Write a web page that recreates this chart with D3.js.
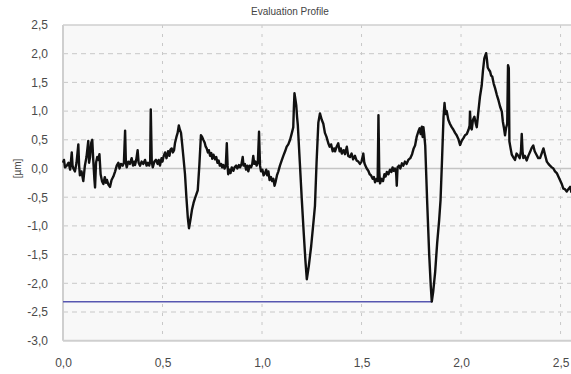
<!DOCTYPE html>
<html>
<head>
<meta charset="utf-8">
<script src="https://cdn.jsdelivr.net/npm/d3@7"></script>
<style>
  html, body { margin: 0; padding: 0; background: #fff; }
  svg { display: block; font-family: "Liberation Sans", Arial, sans-serif; }
</style>
</head>
<body>
<svg id="chart"></svg>
<script>
// ticks
const xTicks = [0, 0.5, 1.0, 1.5, 2.0, 2.5];
const yTicks = [2.5, 2.0, 1.5, 1.0, 0.5, 0.0, -0.5, -1.0, -1.5, -2.0, -2.5, -3.0];

// profile: position and height in µm
const profileX = [
  0.000, 0.005, 0.010, 0.019, 0.028, 0.036, 0.044, 0.048, 0.052, 0.060, 0.068, 0.077, 0.081, 0.085, 0.093, 0.102,
  0.110, 0.118, 0.127, 0.131, 0.136, 0.142, 0.147, 0.152, 0.158, 0.161, 0.166, 0.172, 0.178, 0.183, 0.189, 0.196,
  0.203, 0.210, 0.216, 0.221, 0.228, 0.236, 0.244, 0.253, 0.262, 0.270, 0.278, 0.284, 0.291, 0.300, 0.306, 0.312,
  0.316, 0.320, 0.328, 0.336, 0.345, 0.352, 0.358, 0.362, 0.368, 0.375, 0.380, 0.387, 0.395, 0.403, 0.412, 0.420,
  0.427, 0.433, 0.438, 0.441, 0.446, 0.451, 0.459, 0.467, 0.475, 0.481, 0.487, 0.495, 0.500, 0.506, 0.513, 0.520,
  0.528, 0.535, 0.540, 0.546, 0.552, 0.558, 0.563, 0.570, 0.576, 0.582, 0.587, 0.593, 0.598, 0.605, 0.613, 0.620,
  0.627, 0.633, 0.640, 0.648, 0.656, 0.663, 0.670, 0.677, 0.685, 0.693, 0.699, 0.705, 0.712, 0.717, 0.722, 0.728,
  0.733, 0.739, 0.745, 0.750, 0.756, 0.764, 0.770, 0.776, 0.782, 0.788, 0.795, 0.800, 0.806, 0.812, 0.818, 0.823,
  0.827, 0.830, 0.836, 0.842, 0.848, 0.856, 0.862, 0.870, 0.876, 0.884, 0.890, 0.897, 0.903, 0.907, 0.914, 0.920,
  0.926, 0.931, 0.938, 0.945, 0.951, 0.956, 0.961, 0.967, 0.973, 0.979, 0.985, 0.990, 0.995, 1.002, 1.008, 1.015,
  1.021, 1.026, 1.032, 1.038, 1.045, 1.051, 1.057, 1.063, 1.069, 1.075, 1.082, 1.090, 1.099, 1.107, 1.116, 1.124,
  1.132, 1.141, 1.150, 1.157, 1.160, 1.163, 1.168, 1.172, 1.176, 1.180, 1.190, 1.200, 1.210, 1.218, 1.225, 1.235,
  1.247, 1.258, 1.266, 1.274, 1.283, 1.291, 1.300, 1.308, 1.316, 1.324, 1.333, 1.340, 1.347, 1.355, 1.362, 1.367,
  1.375, 1.383, 1.390, 1.396, 1.401, 1.410, 1.417, 1.426, 1.433, 1.442, 1.450, 1.458, 1.467, 1.475, 1.484, 1.492,
  1.500, 1.509, 1.514, 1.518, 1.526, 1.534, 1.541, 1.548, 1.556, 1.562, 1.568, 1.576, 1.581, 1.585, 1.589, 1.593,
  1.600, 1.608, 1.615, 1.621, 1.627, 1.635, 1.643, 1.650, 1.656, 1.662, 1.668, 1.674, 1.677, 1.681, 1.688, 1.695,
  1.703, 1.710, 1.718, 1.726, 1.735, 1.745, 1.754, 1.762, 1.769, 1.777, 1.785, 1.792, 1.797, 1.803, 1.807, 1.811,
  1.815, 1.820, 1.830, 1.840, 1.848, 1.853, 1.860, 1.870, 1.880, 1.890, 1.897, 1.905, 1.912, 1.917, 1.922, 1.928,
  1.936, 1.944, 1.953, 1.961, 1.970, 1.978, 1.986, 1.995, 2.003, 2.012, 2.020, 2.029, 2.038, 2.043, 2.045, 2.049,
  2.054, 2.060, 2.067, 2.073, 2.079, 2.083, 2.087, 2.095, 2.104, 2.110, 2.117, 2.122, 2.126, 2.130, 2.134, 2.140,
  2.146, 2.151, 2.157, 2.164, 2.171, 2.180, 2.188, 2.196, 2.205, 2.210, 2.215, 2.221, 2.226, 2.232, 2.236, 2.240,
  2.243, 2.249, 2.255, 2.262, 2.271, 2.279, 2.288, 2.295, 2.301, 2.305, 2.309, 2.313, 2.321, 2.330, 2.338, 2.347,
  2.355, 2.363, 2.370, 2.379, 2.388, 2.397, 2.405, 2.414, 2.422, 2.431, 2.439, 2.447, 2.456, 2.464, 2.472, 2.481,
  2.489, 2.497, 2.505, 2.514, 2.522, 2.531, 2.539, 2.548, 2.555
];
const profileY = [
  0.10, 0.15, 0.02, 0.05, 0.10, -0.02, 0.28, 0.05, 0.00, -0.05, 0.10, 0.42, 0.05, -0.12, -0.05, -0.22,
  0.05, 0.20, 0.48, 0.10, 0.20, 0.45, 0.50, 0.15, -0.20, -0.33, 0.10, 0.20, 0.15, 0.25, -0.10, -0.22,
  -0.27, -0.15, -0.25, -0.20, -0.28, -0.32, -0.20, -0.14, -0.05, 0.05, 0.10, 0.00, 0.08, 0.05, 0.10, 0.66,
  0.10, 0.02, 0.12, 0.08, 0.18, 0.05, 0.12, 0.06, 0.15, 0.32, 0.10, 0.05, 0.12, 0.08, 0.15, 0.05,
  0.10, 0.05, 0.12, 1.03, 0.12, 0.02, 0.12, 0.15, 0.08, 0.15, 0.05, 0.18, 0.12, 0.22, 0.28, 0.18,
  0.30, 0.22, 0.33, 0.35, 0.28, 0.32, 0.45, 0.55, 0.62, 0.75, 0.68, 0.62, 0.45, 0.20, -0.10, -0.50,
  -0.85, -1.04, -0.90, -0.72, -0.60, -0.52, -0.45, -0.38, 0.05, 0.58, 0.55, 0.50, 0.45, 0.38, 0.35, 0.28,
  0.32, 0.22, 0.27, 0.17, 0.24, 0.16, 0.20, 0.10, 0.14, 0.05, 0.08, 0.02, 0.06, 0.00, 0.05, 0.44,
  0.05, -0.10, -0.02, -0.08, 0.02, -0.04, 0.02, 0.05, 0.00, 0.06, 0.02, 0.08, 0.20, 0.05, 0.08, -0.02,
  0.05, -0.05, 0.05, 0.02, 0.08, 0.22, 0.08, 0.12, 0.05, 0.10, 0.64, 0.05, -0.05, -0.02, -0.12, -0.08,
  -0.02, -0.12, -0.05, -0.20, -0.15, -0.22, -0.18, -0.30, -0.22, -0.12, -0.05, 0.05, 0.14, 0.22, 0.30, 0.38,
  0.42, 0.50, 0.62, 0.72, 1.05, 1.31, 1.20, 1.10, 0.90, 0.75, 0.10, -0.55, -1.15, -1.60, -1.93, -1.70,
  -1.35, -0.95, -0.65, 0.10, 0.80, 0.96, 0.85, 0.78, 0.62, 0.55, 0.44, 0.38, 0.42, 0.30, 0.35, 0.30,
  0.38, 0.44, 0.30, 0.35, 0.26, 0.32, 0.25, 0.38, 0.22, 0.20, 0.26, 0.16, 0.22, 0.14, 0.12, 0.08,
  0.12, 0.26, 0.10, 0.06, 0.00, -0.04, -0.10, -0.12, -0.18, -0.15, -0.24, -0.18, -0.22, 0.93, -0.05, -0.26,
  -0.18, -0.22, -0.10, -0.14, -0.06, -0.10, -0.02, -0.06, 0.02, -0.04, 0.00, -0.08, -0.30, 0.02, 0.05, 0.00,
  0.09, 0.05, 0.12, 0.08, 0.15, 0.18, 0.25, 0.35, 0.40, 0.55, 0.64, 0.70, 0.60, 0.73, 0.55, 0.72,
  0.60, 0.40, -0.60, -1.50, -2.05, -2.32, -2.15, -1.80, -1.30, -0.90, -0.55, 0.20, 0.90, 1.14, 0.95, 1.00,
  0.85, 0.78, 0.72, 0.68, 0.62, 0.58, 0.52, 0.41, 0.48, 0.53, 0.58, 0.60, 0.68, 0.75, 0.99, 0.72,
  0.68, 0.85, 0.90, 0.80, 0.72, 0.85, 0.99, 1.25, 1.45, 1.70, 1.92, 1.97, 2.01, 1.90, 1.76, 1.72,
  1.69, 1.62, 1.60, 1.48, 1.40, 1.28, 1.19, 1.08, 0.99, 0.82, 0.72, 0.58, 0.70, 0.78, 1.80, 1.75,
  0.47, 0.35, 0.24, 0.20, 0.15, 0.26, 0.22, 0.18, 0.30, 0.60, 0.30, 0.18, 0.22, 0.14, 0.22, 0.29,
  0.36, 0.40, 0.30, 0.24, 0.18, 0.18, 0.26, 0.35, 0.24, 0.12, 0.08, 0.05, 0.02, 0.00, -0.05, -0.08,
  -0.14, -0.20, -0.26, -0.35, -0.36, -0.40, -0.36, -0.32, -0.42
];

// blue reference line: from start to the deepest valley
const refLineX = [0, 1.853];
const refLineY = [-2.32, -2.32];

const width = 571, height = 374;
const svg = d3.select("#chart").attr("width", width).attr("height", height);

const x = d3.scaleLinear().domain([0, 2.555]).range([63, 571.5]);
const y = d3.scaleLinear().domain([-3, 2.5]).range([340.7, 25]);

const locale = d3.formatLocale({decimal: ",", thousands: ".", grouping: [3], currency: ["", ""], minus: "-"});
const fmt = locale.format(".1f");

// plot background
svg.append("rect")
    .attr("x", x(0)).attr("y", y(2.5))
    .attr("width", width - x(0)).attr("height", y(-3) - y(2.5))
    .attr("fill", "#f8f8f8");

// horizontal grid
svg.append("g").selectAll("line")
    .data(yTicks.filter(d => d !== 2.5 && d !== -3.0))
    .join("line")
    .attr("x1", x(0)).attr("x2", width)
    .attr("y1", d => y(d)).attr("y2", d => y(d))
    .attr("stroke", d => d === 0 ? "#c4c4c4" : "#c8c8c8")
    .attr("stroke-width", d => d === 0 ? 1.5 : 1)
    .attr("stroke-dasharray", d => d === 0 ? null : "5,4");

// vertical grid
svg.append("g").selectAll("line")
    .data(xTicks.filter(d => d > 0))
    .join("line")
    .attr("x1", d => x(d)).attr("x2", d => x(d))
    .attr("y1", y(2.5)).attr("y2", y(-3))
    .attr("stroke", "#c8c8c8")
    .attr("stroke-dasharray", "3,6");

// frame
svg.append("line").attr("x1", x(0)).attr("x2", width).attr("y1", y(2.5)).attr("y2", y(2.5))
    .attr("stroke", "#cfcfcf").attr("stroke-width", 1.5);
svg.append("line").attr("x1", x(0)).attr("x2", width).attr("y1", y(-3)).attr("y2", y(-3))
    .attr("stroke", "#cfcfcf").attr("stroke-width", 2);
svg.append("line").attr("x1", x(0)).attr("x2", x(0)).attr("y1", y(2.5)).attr("y2", y(-3))
    .attr("stroke", "#cfcfcf").attr("stroke-width", 2);

// y axis labels
const yAxis = d3.axisLeft(y).tickValues(yTicks).tickFormat(fmt).tickSize(0).tickPadding(15);
svg.append("g").attr("transform", `translate(${x(0)},0)`).call(yAxis)
    .call(g => g.select(".domain").remove())
    .call(g => g.selectAll("text")
        .attr("font-family", "'Liberation Sans', Arial, sans-serif")
        .attr("font-size", 12).attr("fill", "#4a4a4a"));

// x axis labels
const xAxis = d3.axisBottom(x).tickValues(xTicks).tickFormat(fmt).tickSize(0).tickPadding(18);
svg.append("g").attr("transform", `translate(0,${y(-3)})`).call(xAxis)
    .call(g => g.select(".domain").remove())
    .call(g => g.selectAll("text")
        .attr("font-family", "'Liberation Sans', Arial, sans-serif")
        .attr("font-size", 12).attr("fill", "#4a4a4a"));

// title
svg.append("text")
    .attr("x", 290).attr("y", 15)
    .attr("text-anchor", "middle")
    .attr("font-size", 10).attr("fill", "#444")
    .text("Evaluation Profile");

// y axis unit
svg.append("text")
    .attr("transform", `translate(21,${y(0)}) rotate(-90)`)
    .attr("text-anchor", "middle")
    .attr("font-size", 10).attr("fill", "#444")
    .text("[µm]");

// reference line
const refData = refLineX.map((d, i) => [d, refLineY[i]]);
svg.append("path")
    .datum(refData)
    .attr("d", d3.line().x(d => x(d[0])).y(d => y(d[1])))
    .attr("fill", "none")
    .attr("stroke", "#5656b0")
    .attr("stroke-width", 1.5);

// profile
const profile = profileX.map((d, i) => [d, profileY[i]]);
svg.append("path")
    .datum(profile)
    .attr("d", d3.line().x(d => x(d[0])).y(d => y(d[1])))
    .attr("fill", "none")
    .attr("stroke", "#111")
    .attr("stroke-width", 2.4)
    .attr("stroke-linejoin", "round");
</script>
</body>
</html>
